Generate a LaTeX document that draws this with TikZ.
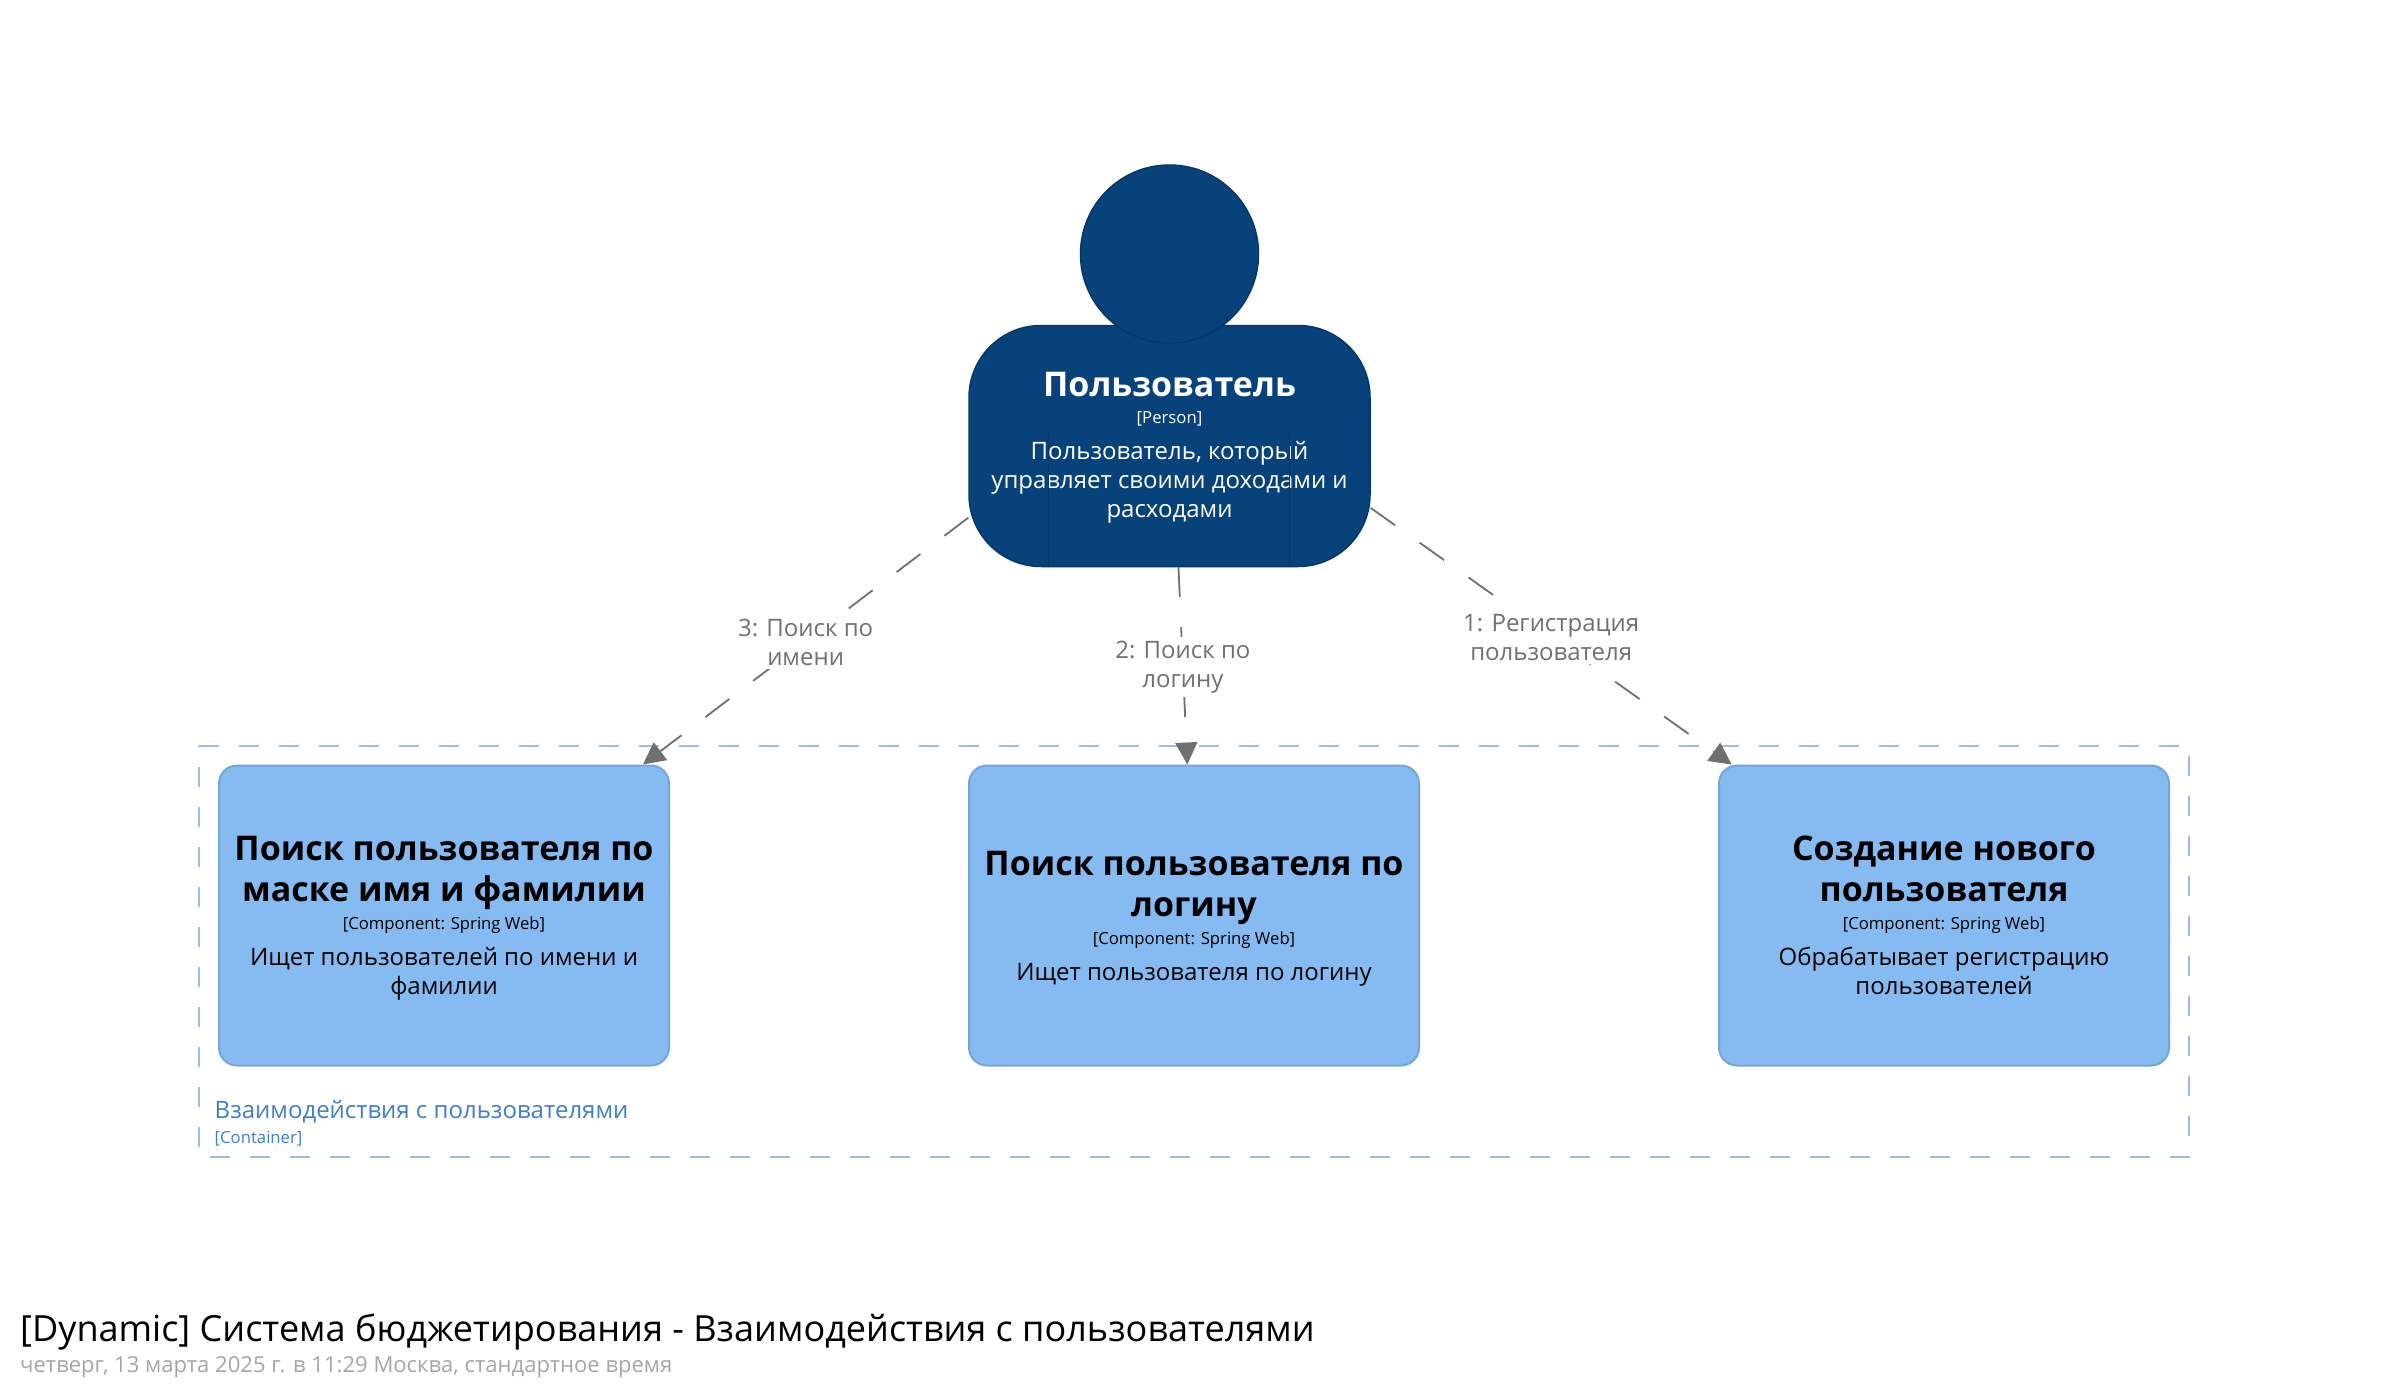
\documentclass[tikz,border=0pt]{standalone}
\usepackage{fontspec}
\setmainfont{Open Sans}
\usetikzlibrary{shapes,arrows.meta}
\definecolor{personblue}{HTML}{08427B}
\definecolor{personedge}{HTML}{063769}
\definecolor{blockblue}{HTML}{85BBF0}
\definecolor{blockedge}{HTML}{74A6DB}
\definecolor{groupedge}{HTML}{9DBDDF}
\definecolor{grouptext}{HTML}{3F7FC6}
\definecolor{linegrey}{HTML}{707070}
\newcommand{\nametext}{\fontsize{34}{41}\bfseries\selectfont\rule{0pt}{31pt}}
\newcommand{\techtext}{\fontsize{16.7}{28}\mdseries\selectfont}
\newcommand{\desctext}{\fontsize{24}{29}\mdseries\selectfont\lineskiplimit=-100pt}
\newcommand{\blockend}[1][7pt]{\rule[-#1]{0pt}{#1}}
\tikzstyle{person} = [rectangle, minimum width=402pt, minimum height=402pt, inner sep=0]
\tikzstyle{body} = [rectangle, draw=personedge, line width=1.5pt, fill=personblue, rounded corners=72pt, minimum width=401pt, minimum height=241pt, text=white, align=center, inner sep=0, font=\desctext]
\tikzstyle{head} = [circle, draw=personedge, line width=1.5pt, fill=personblue, minimum size=178pt, inner sep=0]
\tikzstyle{block} = [rectangle, draw=blockedge, line width=2pt, fill=blockblue, rounded corners=18pt, minimum width=450pt, minimum height=300pt, align=center, inner sep=0, node distance=750pt, font=\desctext]
\tikzstyle{group} = [rectangle, minimum width=1989pt, minimum height=411pt, inner sep=0]
\tikzstyle{groupline} = [draw=groupedge, line width=2pt, dash pattern=on 20pt off 20pt]
\tikzstyle{line} = [draw=linegrey, line width=1.8pt, dash pattern=on 30pt off 30pt, -{Triangle[length=22pt,width=22pt,fill=linegrey]}]
\tikzstyle{linelabel} = [fill=white, text=linegrey, align=center, inner sep=4pt, yshift=-1pt, font=\desctext]
\begin{document}
\begin{tikzpicture}[x=1pt,y=-1pt]
\useasboundingbox (0,0) rectangle (2390,1391);

\node [group] (users) at (1194,951.5) {};
\draw [groupline] (users.north west) -- (users.north east) -- (users.south east) -- (users.south west) -- cycle;

\node [person] (person) at (1169.5,366) {};
\node [body, below of=person, node distance=80pt] (personbody) {\nametext Пользователь\\[-2pt]\techtext [Person]\\[7pt]Пользователь, который\\управляет своими доходами и\\расходами\blockend[10pt]};
\draw [personedge, line width=1.5pt] (1048.5,433) -- (1048.5,567) (1289.5,433) -- (1289.5,567);
\node [head, above of=person, node distance=112pt] (personhead) {};

\node [block] (searchname) at (444,915.5) {\nametext Поиск пользователя по\\[12pt]\nametext маске имя и фамилии\\[-1pt]\techtext [Component: Spring Web]\\[7pt]Ищет пользователей по имени и\\фамилии\blockend};
\node [block, right of=searchname] (searchlogin) {\nametext Поиск пользователя по\\[12pt]\nametext логину\\[-1pt]\techtext [Component: Spring Web]\\[7pt]Ищет пользователя по логину\blockend};
\node [block, right of=searchlogin] (register) {\nametext Создание нового\\[12pt]\nametext пользователя\\[-1pt]\techtext [Component: Spring Web]\\[7pt]Обрабатывает регистрацию\\пользователей\blockend};

\node [anchor=base west, inner sep=0, text=grouptext, font=\desctext] (groupname) at (214.5,1118) {Взаимодействия с пользователями};
\node [anchor=base west, inner sep=0, text=grouptext, font=\techtext] (grouptech) at (214.5,1143) {[Container]};

\path [line] (person) -- node [linelabel] (reglabel) {1: Регистрация\\пользователя} (register);
\path [line] (person) -- node [linelabel] (loginlabel) {2: Поиск по\\логину} (searchlogin);
\path [line] (person) -- node [linelabel] (namelabel) {3: Поиск по\\имени} (searchname);

\node [anchor=base west, inner sep=0, font=\fontsize{36.05}{44}\selectfont] (title) at (20,1341) {[Dynamic] Система бюджетирования - Взаимодействия с пользователями};
\node [anchor=base west, inner sep=0, text=black!35, font=\fontsize{22.05}{26}\selectfont] (subtitle) at (20,1372) {четверг, 13 марта 2025 г. в 11:29 Москва, стандартное время};

\end{tikzpicture}
\end{document}
